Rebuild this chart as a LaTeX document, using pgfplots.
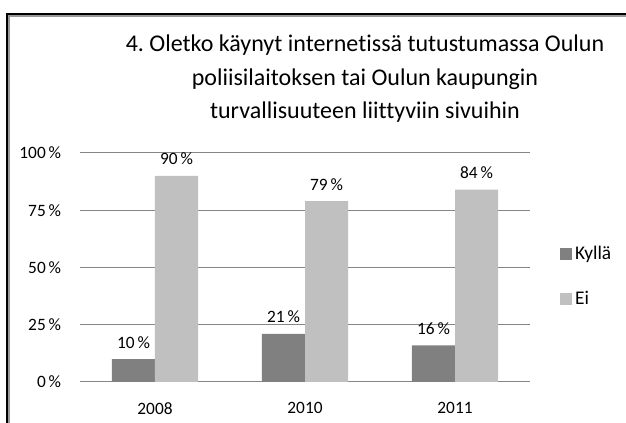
\documentclass[border=0pt]{standalone}
\usepackage{pgfplots}
\pgfplotsset{compat=1.18}
\usepackage{fontspec}
\setmainfont{Carlito}[Ligatures=NoCommon]
\frenchspacing
\definecolor{darkbar}{RGB}{128,128,128}
\definecolor{lightbar}{RGB}{192,192,192}
\definecolor{gridc}{RGB}{134,134,134}
\begin{document}
\begin{tikzpicture}[x=0.75pt,y=0.75pt]
\useasboundingbox (0,0) rectangle (626,423);
\draw[gray!80, line width=1.5pt] (9,0) -- (9,407) -- (626,407);
\draw[black, line width=1.5pt] (7,0) -- (7,409) -- (626,409);
\node[anchor=north, inner sep=0pt, align=center, font=\fontsize{18}{25}\selectfont] at (365,388)
  {4. Oletko käynyt internetissä tutustumassa Oulun\\ poliisilaitoksen tai Oulun kaupungin\\ turvallisuuteen liittyviin sivuihin};
\begin{axis}[
  at={(60pt,30.75pt)}, anchor=south west, scale only axis,
  width=337.5pt, height=171.75pt,
  xmin=-0.5, xmax=2.5, ymin=0, ymax=100,
  ybar=0pt, bar width=0.2867,
  xtick={0,1,2}, xticklabels={2008,2010,2011},
  ytick={0,25,50,75,100},
  /pgf/number format/assume math mode=true,
  yticklabel={\pgfmathprintnumber{\tick}\,\%},
  ymajorgrids, grid style={draw=gridc, line width=0.75pt},
  axis line style={draw=none},
  major tick length=0pt,
  tick label style={font=\fontsize{13}{15}\selectfont},
  yticklabel style={inner sep=0pt, anchor=east, xshift=-14pt},
  xticklabel style={inner sep=0pt, anchor=north, yshift=-15pt},
  nodes near coords={\pgfmathprintnumber{\pgfplotspointmeta}\,\%},
  every node near coord/.append style={font=\fontsize{13}{15}\selectfont, inner sep=0pt, yshift=8pt},
  legend style={at={(1.067,0.461)}, anchor=west, draw=none, fill=none, inner sep=0pt,
    font=\fontsize{14.5}{16}\selectfont, row sep=18.5pt, cells={anchor=west}},
  legend image code/.code={\fill[#1] (0pt,-4.5pt) rectangle (9pt,4.5pt);},
]
\addplot[fill=darkbar, draw=none] coordinates {(0,10) (1,21) (2,16)};
\addplot[fill=lightbar, draw=none] coordinates {(0,90) (1,79) (2,84)};
\legend{Kyllä, Ei}
\end{axis}
\end{tikzpicture}
\end{document}
